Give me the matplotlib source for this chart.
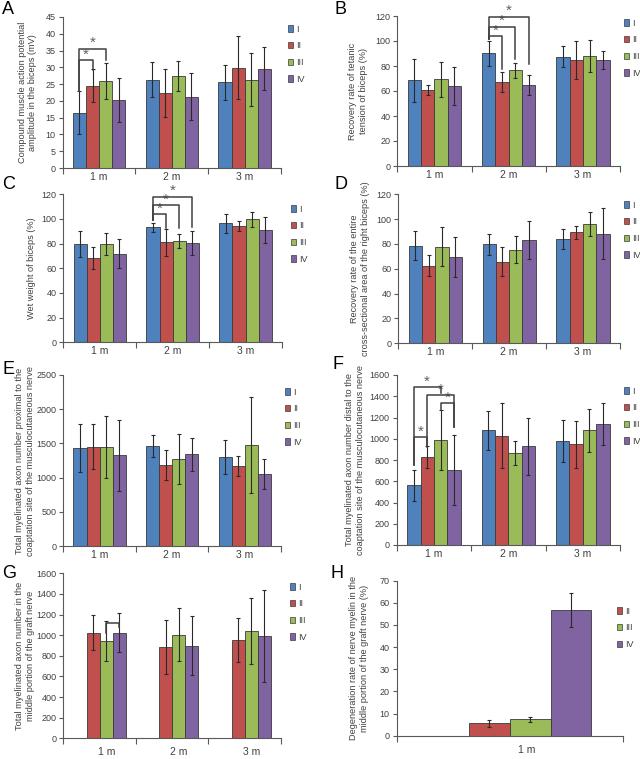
import numpy as np
import matplotlib
matplotlib.use("Agg")
import matplotlib.pyplot as plt
from matplotlib.patches import Patch
from matplotlib.transforms import ScaledTranslation

plt.rcParams['font.family'] = ['Liberation Sans', 'DejaVu Sans']

W, H = 640, 759

groups = ['I', 'II', 'III', 'IV']
colors = ['#4F81BD', '#C0504D', '#9BBB59', '#8064A2']
months = ['1 m', '2 m', '3 m']

# means / SD per group (I, II, III, IV), one value per month
a_mean = [[16.4, 26.3, 25.5], [24.5, 22.4, 29.9], [26.0, 27.5, 26.3], [20.2, 21.3, 29.6]]
a_err = [[6.4, 5.2, 5.1], [4.9, 7.2, 9.3], [5.4, 4.5, 7.9], [6.5, 6.9, 6.5]]

b_mean = [[68.5, 90.1, 87.5], [60.8, 67.5, 84.8], [69.3, 76.8, 88.0], [64.0, 64.5, 84.8]]
b_err = [[17, 10, 8.3], [4, 8, 15], [14, 6, 13], [15, 8, 7]]

c_mean = [[80, 93.2, 96.5], [68.6, 81, 94.3], [79.7, 82.2, 99.7], [71.9, 80.5, 91]]
c_err = [[10.5, 3.8, 7.5], [9, 11, 3.8], [9, 5.5, 6], [12, 10, 10.4]]

d_mean = [[78.7, 79.7, 84], [62.5, 65.8, 89.4], [77.9, 75.4, 96.4], [69.5, 83.2, 88.3]]
d_err = [[12, 8.3, 8.3], [8.4, 12, 5.4], [16, 11, 9.6], [16, 15, 20.5]]

e_mean = [[1428, 1457, 1296], [1452, 1184, 1165], [1442, 1267, 1472], [1325, 1340, 1048]]
e_err = [[350, 160, 250], [325, 215, 148], [455, 365, 700], [520, 245, 220]]

f_mean = [[562, 1079, 979], [828, 1029, 947], [985, 866, 1079], [703, 929, 1142]]
f_err = [[144, 185, 200], [100, 305, 223], [282, 110, 205], [330, 267, 198]]

g_mean = [[None, None, None], [1025, 886, 954], [941, 1006, 1038], [1025, 899, 990]]
g_err = [[None, None, None], [170, 258, 210], [195, 256, 318], [190, 285, 447]]

h_cats = ['1 m']
h_mean = [[None], [5.7], [7.4], [56.8]]
h_err = [[None], [1.6], [1.1], [7.8]]

# significance brackets: (month, group i, group j, top, left leg end, right leg end, star)
a_sig = [(0, 0, 1, 32.2, 23.0, 29.2, True), (0, 0, 2, 35.6, 23.0, 32.1, True)]
b_sig = [(1, 0, 1, 104, 102, 78, True), (1, 0, 2, 111.4, 102, 86, True),
         (1, 0, 3, 119.4, 102, 82, True)]
c_sig = [(1, 0, 1, 103.8, 99, 92.4, True), (1, 0, 2, 111, 99, 92.4, True),
         (1, 0, 3, 118, 99, 93.5, True)]
f_sig = [(0, 0, 1, 1016, 753, 941, True), (0, 0, 2, 1490, 753, 1430, True),
         (0, 1, 3, 1411, 922, 1110, True), (0, 2, 3, 1336, 1270, 1110, True)]
g_sig = [(0, 2, 3, 1121, 1021, 1079, False)]

fig = plt.figure(figsize=(W / 100, H / 100), dpi=100)
bw = 0.18
txt = '#404040'


def panel(box, mean, err, cats, ymax, ystep, ylabel, lab_x, letter, letter_xy,
          leg_xy, leg_groups, sig=(), xlab_pad=3, xlab_shift=0):
    l, r, t, b = box
    ax = fig.add_axes([l / W, 1 - b / H, (r - l) / W, (b - t) / H])
    n = len(cats)
    xc = np.arange(n) + 0.5
    for gi in range(4):
        for ci in range(n):
            if mean[gi][ci] is None:
                continue
            x = xc[ci] + (gi - 1.5) * bw
            ax.bar(x, mean[gi][ci], bw, color=colors[gi], edgecolor='#3a3a3a', lw=0.6, zorder=2)
            ax.errorbar(x, mean[gi][ci], yerr=err[gi][ci], fmt='none', ecolor='#2a2a2a',
                        elinewidth=0.8, capsize=1.6, capthick=0.8, zorder=3)
    for ci, gi, gj, top, yl, yr, star in sig:
        xi = xc[ci] + (gi - 1.5) * bw
        xj = xc[ci] + (gj - 1.5) * bw
        ax.plot([xi, xi, xj, xj], [yl, top, top, yr], color='#404040', lw=1.1, zorder=4,
                clip_on=False)
        if star:
            ax.text((xi + xj) / 2, top - ymax * 0.01, '*', ha='center', va='bottom',
                    fontsize=11, color='#606060')
    ax.set_xlim(0, n)
    ax.set_ylim(0, ymax)
    ax.set_yticks(np.arange(0, ymax + 0.1, ystep))
    ax.set_xticks(np.arange(n + 1))
    ax.set_xticklabels([])
    ax.set_xticks(xc, minor=True)
    ax.set_xticklabels(cats, minor=True)
    ax.tick_params(axis='x', which='major', length=4, direction='out', color='#595959')
    ax.tick_params(axis='x', which='minor', length=0, pad=xlab_pad, labelsize=7.5, labelcolor=txt)
    ax.tick_params(axis='y', length=3, direction='out', color='#595959', labelsize=6.5,
                   labelcolor=txt, pad=2)
    if xlab_shift:
        for lab in ax.get_xticklabels(minor=True):
            lab.set_transform(lab.get_transform() + ScaledTranslation(xlab_shift / 100, 0, fig.dpi_scale_trans))
    for s in ['top', 'right']:
        ax.spines[s].set_visible(False)
    for s in ['left', 'bottom']:
        ax.spines[s].set_color('#595959')
        ax.spines[s].set_linewidth(0.8)
    ax.set_ylabel(ylabel, fontsize=6.6, color=txt, va='center')
    ax.yaxis.set_label_coords((lab_x - l) / (r - l), 0.5)
    fig.text(letter_xy[0] / W, 1 - letter_xy[1] / H, letter, fontsize=13, va='top', ha='left')
    handles = [Patch(facecolor=colors[g], edgecolor='#3a3a3a', lw=0.5) for g in leg_groups]
    ax.legend(handles, [groups[g] for g in leg_groups], loc='upper left',
              bbox_to_anchor=(leg_xy[0] / W, 1 - leg_xy[1] / H), bbox_transform=fig.transFigure,
              frameon=False, fontsize=6.5, handlelength=0.6, handleheight=0.7,
              handletextpad=0.35, labelspacing=0.85, borderpad=0, labelcolor=txt)
    return ax


panel((62.7, 281, 17, 168), a_mean, a_err, months, 45, 5,
      'Compound muscle action potential\namplitude in the biceps (mV)', 27.5, 'A', (2, 1),
      (283, 20), [0, 1, 2, 3], a_sig)
panel((397.3, 620, 16, 166), b_mean, b_err, months, 120, 20,
      'Recovery rate of tetanic\ntension of biceps (%)', 358, 'B', (334, 1),
      (619, 14), [0, 1, 2, 3], b_sig)
panel((63.3, 282, 194.3, 342.3), c_mean, c_err, months, 120, 20,
      'Wet weight of biceps (%)', 32, 'C', (2, 176),
      (286, 200), [0, 1, 2, 3], c_sig)
panel((398.3, 620, 194.3, 343.3), d_mean, d_err, months, 120, 20,
      'Recovery rate of the entire\ncross-sectional area of the right biceps (%)', 360, 'D',
      (334, 176), (619, 196), [0, 1, 2, 3])
panel((63.3, 281, 375, 546), e_mean, e_err, months, 2500, 500,
      'Total myelinated axon number proximal to the\ncoaptation site of the musculocutaneous nerve',
      25, 'E', (3, 361), (280, 383), [0, 1, 2, 3])
panel((396.7, 620, 375, 545), f_mean, f_err, months, 1600, 200,
      'Total myelinated axon number distal to the\ncoaptation site of the musculocutaneous nerve',
      355, 'F', (332, 356), (619, 382), [0, 1, 2, 3], f_sig)
panel((63.3, 281, 573.3, 738.3), g_mean, g_err, months, 1600, 200,
      'Total myelinated axon number in the\nmiddle portion of the graft nerve', 25, 'G',
      (2, 565), (285, 578), [0, 1, 2, 3], g_sig, xlab_pad=6.5, xlab_shift=7)
panel((396.7, 623, 580.7, 735.7), h_mean, h_err, h_cats, 70, 10,
      'Degeneration rate of nerve myelin in the\nmiddle portion of the graft nerve (%)', 359, 'H',
      (331, 565), (612, 602), [1, 2, 3], xlab_pad=7, xlab_shift=17)

fig.savefig('out.png', dpi=100)
